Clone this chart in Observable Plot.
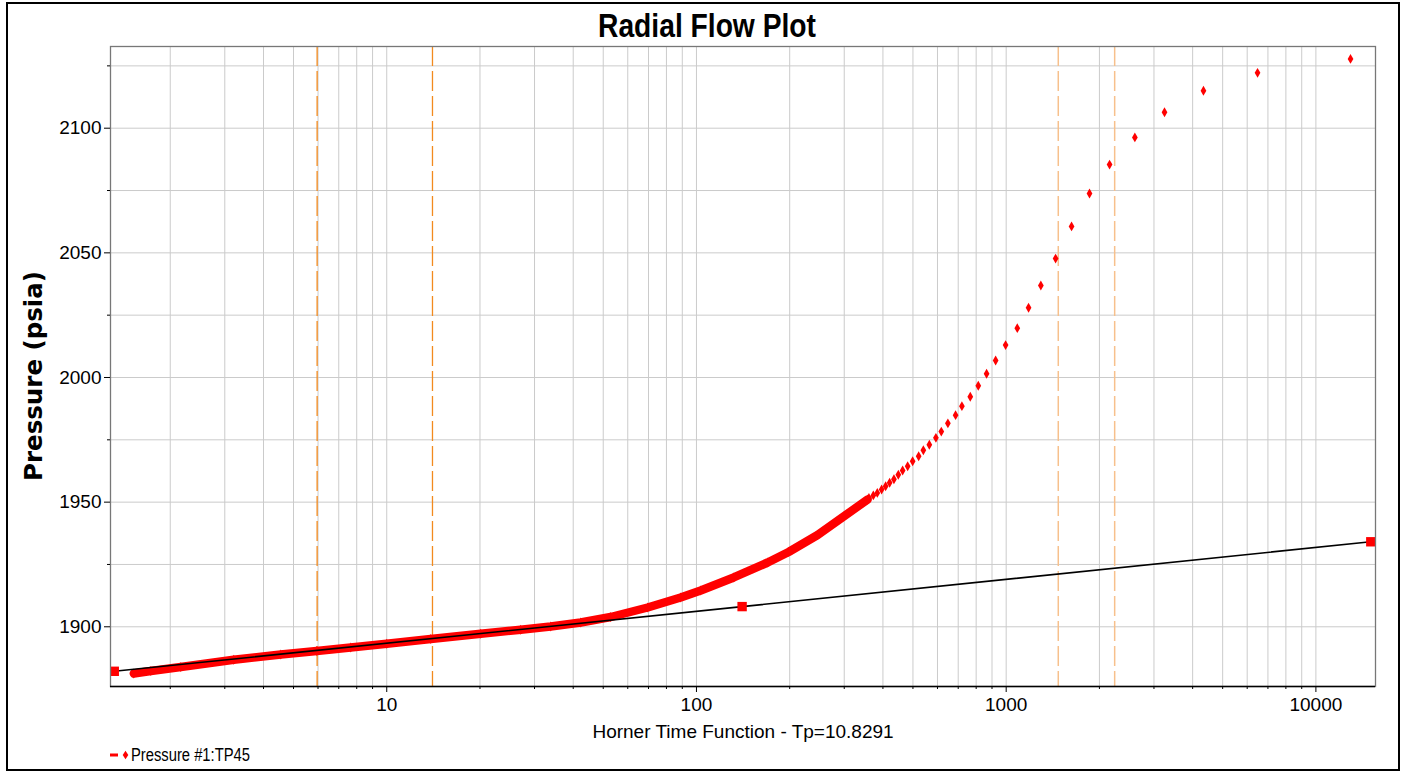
<!DOCTYPE html>
<html>
<head>
<meta charset="utf-8">
<script src="https://cdn.jsdelivr.net/npm/d3@7"></script>
<script src="https://cdn.jsdelivr.net/npm/@observablehq/plot@0.6"></script>
<style>
  body { margin: 0; background: #fff; }
  #wrap { position: relative; width: 1406px; height: 772px; overflow: hidden; background: #fff; font-family: "Liberation Sans", Arial, sans-serif; }
  #border { position: absolute; left: 6px; top: 2px; width: 1394px; height: 769px; box-sizing: border-box; border: 2.5px solid #000; pointer-events: none; }
  #title { position: absolute; top: 6px; left: 707px; transform: translateX(-50%) scaleX(0.83); font-weight: bold; font-size: 34px; line-height: normal; white-space: nowrap; color: #000; }
  #ylab { position: absolute; left: 33px; top: 376px; transform: translate(-50%, -50%) rotate(-90deg); font-family: "DejaVu Sans", Verdana, sans-serif; font-weight: bold; font-size: 24.5px; white-space: nowrap; color: #000; }
  #chart { position: absolute; left: 0; top: 40px; }
  #legend { position: absolute; left: 109px; top: 745px; height: 20px; display: flex; align-items: center; }
  #legend span { display: inline-block; font-size: 18px; transform: scaleX(0.82); transform-origin: left center; white-space: nowrap; color: #000; }
</style>
</head>
<body>
<div id="wrap">
  <div id="title">Radial Flow Plot</div>
  <div id="ylab">Pressure (psia)</div>
  <div id="chart"></div>
  <div id="legend">
    <svg width="22" height="20" style="display:block">
      <line x1="1" x2="9" y1="10" y2="10" stroke="red" stroke-width="3"></line>
      <path d="M16.5,5.8 L19.3,10 L16.5,14.2 L13.7,10 Z" fill="red"></path>
    </svg>
    <span>Pressure #1:TP45</span>
  </div>
  <div id="border"></div>
</div>
<script>
// ---- data ----
// dense part of the pressure series (overlapping markers form a band)
const denseHorner   = [1.525, 1.731, 2.163, 3.207, 4.548, 5.943, 7.65, 10.0, 13.87, 20.11, 27.07, 33.84, 42.29, 52.84, 69.58, 88.9, 103.2, 131.9, 169.8, 198.4, 246.1, 298.7, 357.0];
const densePressure = [1881.27, 1882.27, 1883.88, 1886.76, 1888.89, 1890.29, 1891.70, 1893.18, 1895.11, 1897.19, 1898.84, 1900.12, 1901.72, 1903.93, 1907.74, 1911.75, 1914.56, 1919.78, 1925.79, 1930.0, 1936.82, 1944.24, 1951.06];
// early shut-in points, individually visible
const sparseHorner   = [12935, 6480, 4335, 3245, 2603, 2157, 1858, 1626, 1444, 1294, 1181, 1086, 995.6, 924.5, 864.4, 812.7, 765.7, 719.5, 686.5, 648.3, 617.3, 593.1, 564.8, 540.2, 521.7, 498.9, 480.7, 463.1, 448.5, 434.1, 420.4, 408.1, 396.1, 383.6, 372.4, 360.5];
const sparsePressure = [2127.8, 2122.2, 2115.0, 2106.4, 2096.3, 2085.4, 2073.8, 2060.6, 2047.7, 2036.9, 2028.0, 2019.8, 2013.0, 2006.8, 2001.5, 1996.7, 1992.3, 1988.5, 1984.9, 1981.6, 1978.3, 1975.8, 1973.0, 1970.8, 1968.4, 1966.4, 1964.4, 1962.7, 1961.0, 1959.2, 1957.8, 1956.4, 1955.1, 1953.7, 1952.7, 1951.7];
// radial flow straight line and its handles
const fitHorner   = [1.319, 140.4, 15040];
const fitPressure = [1882.15, 1908.1, 1934.1];
// vertical cursor lines
const cursorDark  = [5.96, 14.05];
const cursorLight = [1473, 2240];
// ticks
const xMajor = [10, 100, 1000, 10000];
const xMinor = [2, 3, 4, 5, 6, 7, 8, 9, 20, 30, 40, 50, 60, 70, 80, 90, 200, 300, 400, 500, 600, 700, 800, 900, 2000, 3000, 4000, 5000, 6000, 7000, 8000, 9000];
const yMajor = [1900, 1950, 2000, 2050, 2100];
const yMinor = [1925, 1975, 2025, 2075, 2125];
const xDomain = [1.2826, 15575];
const yDomain = [1876.05, 2132.77];

const dense  = denseHorner.map((h, i) => ({h, p: densePressure[i]}));
const sparse = sparseHorner.map((h, i) => ({h, p: sparsePressure[i]}));
const fit    = fitHorner.map((h, i) => ({h, p: fitPressure[i]}));

const chart = Plot.plot({
  width: 1406,
  height: 700,
  marginLeft: 110,
  marginRight: 31,
  marginTop: 6,
  marginBottom: 54,
  x: {type: "log", domain: xDomain, label: null},
  y: {domain: yDomain, label: null},
  style: {fontFamily: "Liberation Sans, Arial, sans-serif", fontSize: "19px", color: "#000", background: "transparent", overflow: "visible"},
  marks: [
    Plot.gridX(xMajor.concat(xMinor), {stroke: "#cbcbcb", strokeOpacity: 1, strokeWidth: 1}),
    Plot.gridY(yMajor.concat(yMinor), {stroke: "#cbcbcb", strokeOpacity: 1, strokeWidth: 1}),
    Plot.ruleX(cursorDark, {stroke: "#f28a1e", strokeWidth: 1.3, strokeDasharray: "20,5"}),
    Plot.ruleX(cursorLight, {stroke: "#f7c08c", strokeWidth: 1.5, strokeDasharray: "20,5"}),
    Plot.line(dense, {x: "h", y: "p", stroke: "red", strokeWidth: 8.5}),
    Plot.dot(dense, {x: "h", y: "p", symbol: "diamond", r: 3, fill: "red"}),
    Plot.dot(sparse, {x: "h", y: "p", symbol: "diamond", r: 3, fill: "red"}),
    Plot.line(fit, {x: "h", y: "p", stroke: "black", strokeWidth: 1.6}),
    Plot.dot(fit, {x: "h", y: "p", symbol: "square", r: 5.3, fill: "red", clip: true}),
    Plot.frame({stroke: "#777", strokeWidth: 1.3}),
    Plot.ruleY([yDomain[0]], {stroke: "#000", strokeWidth: 1.3}),
    Plot.axisX(xMajor, {tickSize: 6, tickPadding: 5, tickFormat: d => String(d), label: null}),
    Plot.axisX(xMinor, {tickSize: 3, tickFormat: () => "", label: null}),
    Plot.axisY(yMajor, {tickSize: 6, tickPadding: 3, tickFormat: d => String(d), label: null}),
    Plot.axisY(yMinor, {tickSize: 3, tickFormat: () => "", label: null}),
    Plot.text(["Horner Time Function - Tp=10.8291"], {frameAnchor: "bottom", dy: 51, fontSize: 19, fill: "#000"})
  ]
});
document.getElementById("chart").appendChild(chart);
</script>
</body>
</html>
